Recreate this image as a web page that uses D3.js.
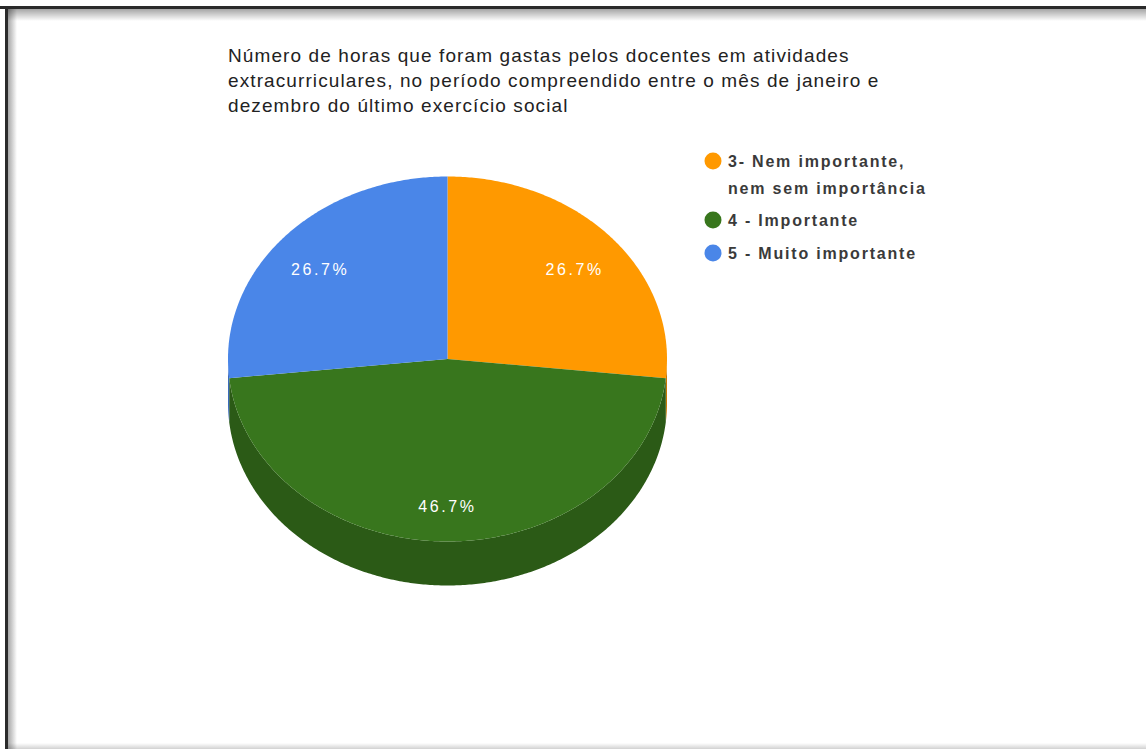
<!DOCTYPE html>
<html>
<head>
<meta charset="utf-8">
<script src="https://cdn.jsdelivr.net/npm/d3@7/dist/d3.min.js"></script>
<style>
  html, body { margin: 0; padding: 0; background: #fff; }
  svg { display: block; }
  text { font-family: "Liberation Sans", Arial, sans-serif; }
</style>
</head>
<body>
<svg id="chart" width="1146" height="749"></svg>
<script>
// Chart data
const categories = ["3- Nem importante,\nnem sem importância", "4 - Importante", "5 - Muito importante"];
const values = [26.7, 46.7, 26.7];
const colors = ["#ff9900", "#38761d", "#4a86e8"];
const sideColors = ["#c77700", "#2b5a16", "#3a6bbb"];
const titleLines = [
  "Número de horas que foram gastas pelos docentes em atividades",
  "extracurriculares, no período compreendido entre o mês de janeiro e",
  "dezembro do último exercício social"
];

const W = 1146, H = 749;
const svg = d3.select("#chart");
const defs = svg.append("defs");

// Page frame with soft inner shadow
const gTop = defs.append("linearGradient").attr("id", "shTop").attr("x1", 0).attr("y1", 0).attr("x2", 0).attr("y2", 1);
gTop.append("stop").attr("offset", 0).attr("stop-color", "#000").attr("stop-opacity", 0.35);
gTop.append("stop").attr("offset", 1).attr("stop-color", "#000").attr("stop-opacity", 0);
const gLeft = defs.append("linearGradient").attr("id", "shLeft").attr("x1", 0).attr("y1", 0).attr("x2", 1).attr("y2", 0);
gLeft.append("stop").attr("offset", 0).attr("stop-color", "#000").attr("stop-opacity", 0.35);
gLeft.append("stop").attr("offset", 1).attr("stop-color", "#000").attr("stop-opacity", 0);
const gBot = defs.append("linearGradient").attr("id", "shBot").attr("x1", 0).attr("y1", 1).attr("x2", 0).attr("y2", 0);
gBot.append("stop").attr("offset", 0).attr("stop-color", "#000").attr("stop-opacity", 0.18);
gBot.append("stop").attr("offset", 1).attr("stop-color", "#000").attr("stop-opacity", 0);

svg.append("rect").attr("x", 8).attr("y", 9).attr("width", W - 8).attr("height", 12).attr("fill", "url(#shTop)");
svg.append("rect").attr("x", 8).attr("y", 9).attr("width", 9).attr("height", H - 9).attr("fill", "url(#shLeft)");
svg.append("rect").attr("x", 8).attr("y", H - 6).attr("width", W - 8).attr("height", 6).attr("fill", "url(#shBot)");
svg.append("rect").attr("x", 0).attr("y", 6).attr("width", W).attr("height", 3).attr("fill", "#2a2a2a");
svg.append("rect").attr("x", 5).attr("y", 6).attr("width", 3).attr("height", H - 6).attr("fill", "#2a2a2a");

// Title
svg.append("g").selectAll("text").data(titleLines).join("text")
  .attr("x", 228)
  .attr("y", (d, i) => 61.5 + i * 25.3)
  .attr("font-size", 19)
  .attr("letter-spacing", 1.1)
  .attr("fill", "#222")
  .text(d => d);

// Tilted pie geometry
const cx = 447.5, cy = 359, rx = 219.5, ry = 182.5, depth = 44;
const rScale = d3.scaleLinear().domain([0, 1]).range([0, 1]);
const pt = (a, f, dy = 0) => [cx + rx * rScale(f) * Math.sin(a), cy - ry * rScale(f) * Math.cos(a) + dy];

const arcs = d3.pie().sort(null).startAngle(0).endAngle(2 * Math.PI)(values);
const line = d3.line();
const steps = a => Math.max(2, Math.ceil((a[1] - a[0]) / 0.01));
function sample(a0, a1, dy) {
  const n = steps([a0, a1]);
  return d3.range(n + 1).map(i => pt(a0 + (a1 - a0) * i / n, 1, dy));
}

// Side walls: only the front half (angles between PI/2 and 3PI/2) is visible
const gSide = svg.append("g");
arcs.forEach((d, i) => {
  const a0 = Math.max(d.startAngle, Math.PI / 2);
  const a1 = Math.min(d.endAngle, 3 * Math.PI / 2);
  if (a1 <= a0) return;
  const top = sample(a0, a1, 0);
  const bot = sample(a0, a1, depth).reverse();
  gSide.append("path")
    .attr("d", line(top.concat(bot)) + "Z")
    .attr("fill", sideColors[i]);
});

// Top faces
const gTopFace = svg.append("g");
arcs.forEach((d, i) => {
  const pts = [[cx, cy]].concat(sample(d.startAngle, d.endAngle, 0));
  gTopFace.append("path")
    .attr("d", line(pts) + "Z")
    .attr("fill", colors[i]);
});

// Percentage labels
const total = d3.sum(values);
const labelR = 0.78;
svg.append("g").selectAll("text").data(arcs).join("text")
  .attr("x", d => pt((d.startAngle + d.endAngle) / 2, labelR)[0])
  .attr("y", d => pt((d.startAngle + d.endAngle) / 2, labelR)[1] + 11)
  .attr("text-anchor", "middle")
  .attr("font-size", 16)
  .attr("letter-spacing", 2.6)
  .attr("fill", "#fff")
  .text(d => (d.value / total * 100).toFixed(1) + "%");

// Legend
const legendY = [161, 220, 253];
const gLeg = svg.append("g");
categories.forEach((c, i) => {
  const y0 = legendY[i];
  gLeg.append("circle").attr("cx", 713).attr("cy", y0).attr("r", 8.5).attr("fill", colors[i]);
  c.split("\n").forEach((ln, k) => {
    gLeg.append("text")
      .attr("x", 728)
      .attr("y", y0 + 5.5 + k * 27)
      .attr("font-size", 16)
      .attr("font-weight", "bold")
      .attr("letter-spacing", 1.8)
      .attr("fill", "#3a3a3a")
      .text(ln);
  });
});
</script>
</body>
</html>
